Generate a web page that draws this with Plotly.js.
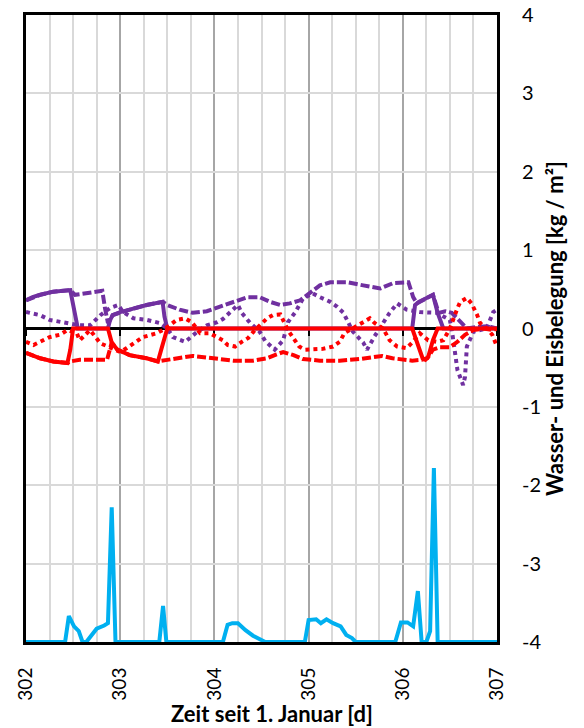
<!DOCTYPE html>
<html>
<head>
<meta charset="utf-8">
<script src="https://cdn.plot.ly/plotly-3.0.1.min.js"></script>
<style>html,body{margin:0;padding:0;background:#fff;}</style>
</head>
<body>
<div id="chart" style="width:584px;height:728px;"></div>
<script>
// ---- data (days since 1 January, kg/m²) ----
const purpleSolidX = [302.00,302.07,302.15,302.29,302.47,302.50,302.53,302.55,302.87,302.89,302.92,303.00,303.10,303.28,303.45,303.47,303.50,306.10,306.13,306.17,306.32,306.37,306.43,307.00];
const purpleSolidY = [0.36,0.40,0.43,0.47,0.49,0.30,0.08,0,0,0.10,0.17,0.21,0.24,0.30,0.34,0.15,0,0,0.30,0.34,0.43,0.20,0,0];

const purpleDashX = [302.00,302.15,302.29,302.47,302.52,302.65,302.81,302.84,302.87,302.89,302.92,303.10,303.28,303.45,303.50,303.63,303.77,303.92,304.06,304.20,304.35,304.48,304.59,304.70,304.80,304.91,305.01,305.12,305.23,305.41,305.58,305.76,305.90,306.06,306.11,306.15,306.32,306.38,306.45,306.52,306.60,306.68,306.80,306.90,307.00];
const purpleDashY = [0.36,0.43,0.47,0.49,0.43,0.45,0.48,0.25,0.07,0.10,0.17,0.24,0.30,0.34,0.30,0.24,0.20,0.22,0.28,0.34,0.40,0.40,0.34,0.30,0.32,0.36,0.45,0.55,0.59,0.59,0.55,0.51,0.58,0.59,0.40,0.32,0.43,0.20,0.22,0.20,0.10,0.00,0.02,0.03,0.00];

const purpleDotX = [302.00,302.15,302.25,302.44,302.57,302.68,302.79,302.89,302.98,303.03,303.14,303.28,303.42,303.50,303.56,303.69,303.82,303.92,304.03,304.09,304.19,304.25,304.29,304.38,304.48,304.54,304.64,304.73,304.78,304.86,304.94,305.04,305.12,305.23,305.30,305.37,305.42,305.47,305.58,305.62,305.70,305.79,305.86,305.94,306.04,306.18,306.36,306.50,306.53,306.58,306.61,306.64,306.66,306.68,306.75,306.89,306.96,307.00];
const purpleDotY = [0.21,0.17,0.11,0.07,0.04,0.04,0.17,0.26,0.30,0.21,0.13,0.11,0.07,0.00,-0.11,-0.17,-0.04,0.04,0.08,0.12,0.24,0.30,0.20,0.07,-0.04,-0.16,-0.27,-0.15,0.08,0.21,0.38,0.45,0.40,0.34,0.28,0.20,0.08,-0.04,-0.18,-0.27,-0.10,0.07,0.20,0.32,0.24,0.21,0.20,0.11,-0.10,-0.53,-0.64,-0.72,-0.62,-0.23,-0.04,0.00,0.21,0.24];

const redSolidX = [302.00,302.15,302.29,302.44,302.47,302.50,302.87,302.91,302.97,303.10,303.28,303.40,303.44,303.48,303.50,306.10,306.16,306.21,306.24,306.27,306.32,306.37,307.00];
const redSolidY = [-0.31,-0.38,-0.42,-0.44,-0.27,0,0,-0.18,-0.27,-0.34,-0.38,-0.42,-0.25,-0.08,0,0,-0.23,-0.38,-0.40,-0.36,-0.15,0,0];

const redDashX = [302.00,302.15,302.29,302.44,302.47,302.57,302.86,302.88,302.91,302.97,303.10,303.28,303.40,303.50,303.63,303.77,303.92,304.03,304.20,304.41,304.56,304.66,304.73,304.84,304.94,305.12,305.33,305.54,305.68,305.78,305.89,306.04,306.10,306.20,306.26,306.32,306.39,306.50,306.58,306.66,306.75,306.86,306.96,307.00];
const redDashY = [-0.31,-0.38,-0.42,-0.44,-0.42,-0.40,-0.40,-0.30,-0.18,-0.27,-0.34,-0.38,-0.42,-0.40,-0.38,-0.35,-0.37,-0.39,-0.41,-0.41,-0.38,-0.33,-0.30,-0.34,-0.39,-0.41,-0.41,-0.39,-0.37,-0.35,-0.38,-0.41,-0.41,-0.40,-0.38,-0.27,-0.24,-0.24,-0.17,-0.08,-0.02,0.00,-0.02,0.00];

const redDotX = [302.00,302.08,302.15,302.25,302.36,302.44,302.54,302.57,302.68,302.79,302.87,303.00,303.07,303.14,303.24,303.39,303.48,303.60,303.69,303.76,303.85,303.95,304.09,304.14,304.22,304.29,304.36,304.43,304.50,304.56,304.62,304.70,304.74,304.78,304.86,304.90,304.96,305.05,305.15,305.26,305.33,305.38,305.51,305.58,305.65,305.70,305.79,305.86,305.94,306.04,306.10,306.18,306.27,306.36,306.43,306.50,306.58,306.61,306.68,306.73,306.79,306.82,306.89,306.95,307.00];
const redDotY = [-0.17,-0.21,-0.17,-0.11,-0.08,-0.02,-0.06,-0.15,-0.02,-0.19,-0.23,-0.30,-0.25,-0.19,-0.11,-0.06,0.00,0.11,0.13,0.08,-0.06,-0.06,-0.15,-0.21,-0.23,-0.17,-0.12,-0.02,0.07,0.13,0.17,0.18,0.08,-0.02,-0.16,-0.23,-0.27,-0.27,-0.26,-0.23,-0.17,-0.06,0.04,0.08,0.13,0.07,0.00,-0.15,-0.23,-0.25,-0.18,-0.06,-0.15,-0.17,-0.15,0.00,0.26,0.34,0.39,0.32,0.17,0.07,0.00,-0.08,-0.23];

const cyanX = [302.00,302.415,302.455,302.51,302.56,302.60,302.64,302.69,302.75,302.83,302.87,302.91,302.95,303.415,303.455,303.49,304.09,304.14,304.19,304.25,304.33,304.41,304.49,304.54,304.96,305.00,305.08,305.13,305.19,305.26,305.34,305.40,305.46,305.50,305.92,305.98,306.05,306.11,306.16,306.20,306.25,306.29,306.33,306.37,307.00];
const cyanY = [-4,-4,-3.67,-3.80,-3.86,-4,-4,-3.93,-3.83,-3.79,-3.76,-2.28,-4,-4,-3.54,-4,-4,-3.78,-3.76,-3.76,-3.85,-3.92,-3.97,-4,-4,-3.72,-3.71,-3.76,-3.71,-3.76,-3.80,-3.91,-3.95,-4,-4,-3.75,-3.75,-3.80,-3.35,-4,-4,-3.86,-1.78,-4,-4];

const yTickVals = [-4,-3,-2,-1,0,1,2,3,4];
const yTickText = ['-4','-3','-2','-1','0','1','2','3','4'];
const xTickVals = [302,303,304,305,306,307];
const xTickText = ['302','303','304','305','306','307'];
const xTitle = 'Zeit seit 1. Januar [d]';
const yTitle = 'Wasser- und Eisbelegung [kg / m²]';

const PURPLE = '#7030A0', RED = '#FF0000', CYAN = '#00B0F0';
const W = 4;
const DOT = '4px,4px', DASH = '9px,3px';

const traces = [
  {x: purpleDotX, y: purpleDotY, mode:'lines', line:{color:PURPLE, width:W, dash:DOT}},
  {x: purpleDashX, y: purpleDashY, mode:'lines', line:{color:PURPLE, width:W, dash:DASH}},
  {x: purpleSolidX, y: purpleSolidY, mode:'lines', line:{color:PURPLE, width:W}},
  {x: redDotX, y: redDotY, mode:'lines', line:{color:RED, width:W, dash:DOT}},
  {x: redDashX, y: redDashY, mode:'lines', line:{color:RED, width:W, dash:DASH}},
  {x: cyanX, y: cyanY, mode:'lines', line:{color:CYAN, width:W}, cliponaxis:false},
  {x: redSolidX, y: redSolidY, mode:'lines', line:{color:RED, width:W}, xaxis:'x2'}
];

const FONT = 'Lato, "Open Sans", "Liberation Sans", sans-serif';

const layout = {
  width:584, height:728,
  margin:{l:26, r:87, t:15, b:86},
  paper_bgcolor:'#fff', plot_bgcolor:'#fff',
  showlegend:false,
  font:{family:FONT, size:20, color:'#000'},
  xaxis:{
    range:[302,307], tickvals:xTickVals, ticktext:xTickText,
    tickfont:{family:FONT, size:19},
    showgrid:true, gridcolor:'#A6A6A6', gridwidth:2,
    minor:{dtick:0.25, tick0:302, showgrid:true, gridcolor:'#D9D9D9', gridwidth:2},
    showline:true, mirror:true, linecolor:'#000', linewidth:3,
    ticks:'', tickangle:-90, ticklabelstandoff:15, zeroline:false,
    layer:'below traces'
  },
  xaxis2:{
    range:[302,307], overlaying:'x', anchor:'free', position:0.5,
    tickvals:xTickVals, ticks:'outside', ticklen:6, tickwidth:2, tickcolor:'#000',
    showticklabels:false, showgrid:false, zeroline:false, showline:false,
    layer:'below traces'
  },
  yaxis:{
    range:[-4,4], tickvals:yTickVals, ticktext:yTickText, side:'right',
    showgrid:true, gridcolor:'#D9D9D9', gridwidth:2,
    zeroline:true, zerolinecolor:'#000', zerolinewidth:3,
    showline:true, mirror:true, linecolor:'#000', linewidth:3,
    ticks:'', ticklabelstandoff:18, layer:'below traces',
    title:{text:yTitle, font:{family:FONT, size:22, weight:'bold'}, standoff:6}
  },
  annotations:[
    {text:xTitle, xref:'paper', yref:'paper', x:0.522, y:-0.114, xanchor:'center', yanchor:'middle',
     showarrow:false, font:{family:FONT, size:22, weight:'bold', color:'#000'}}
  ]
};

Plotly.newPlot('chart', traces, layout, {displayModeBar:false, staticPlot:true});
</script>
</body>
</html>
